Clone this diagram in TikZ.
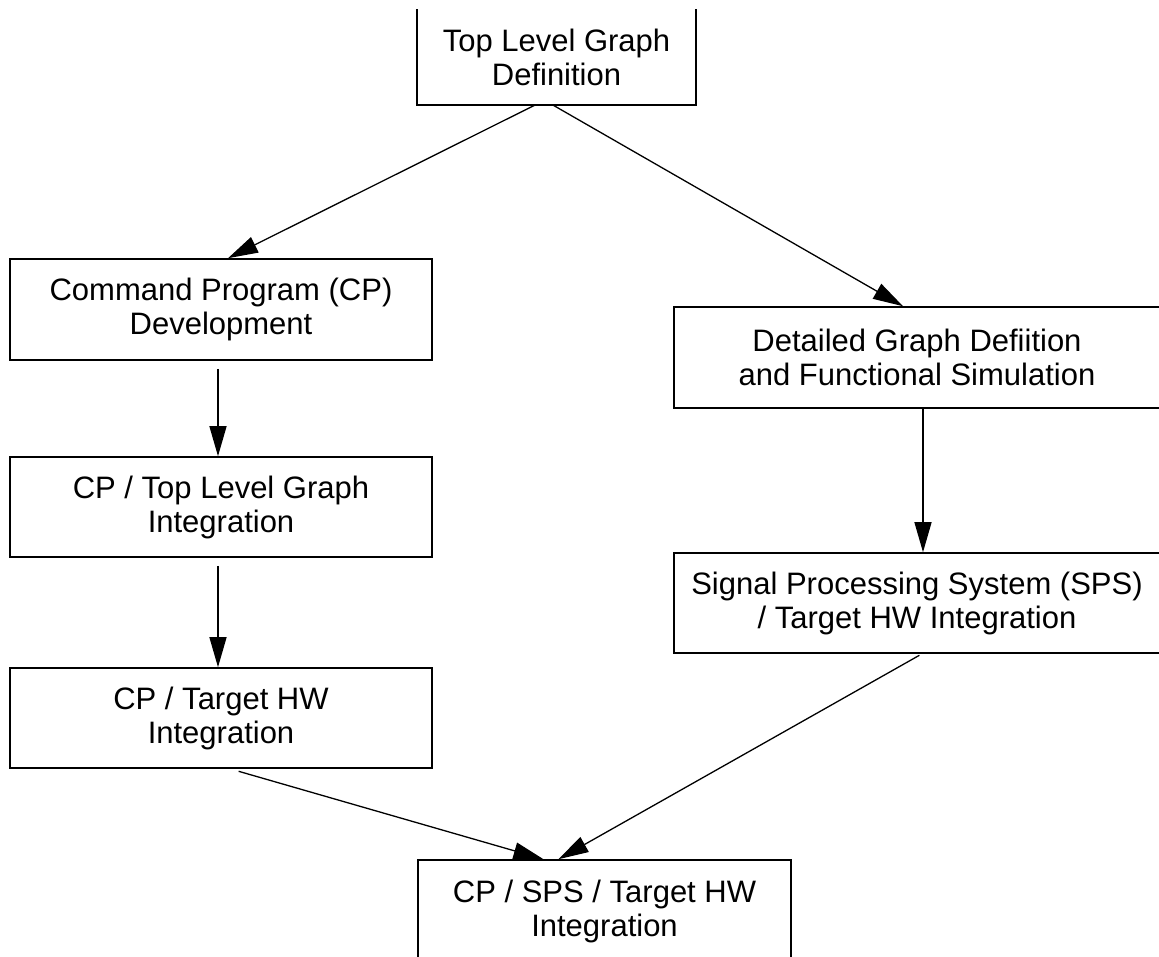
\documentclass[tikz,border=0pt]{standalone}
\usepackage{fontspec}
\setmainfont{Liberation Sans}
\usetikzlibrary{arrows.meta}
\begin{document}
\begin{tikzpicture}[x=1pt,y=-1pt,
  boxline/.style={line width=1.6pt},
  box/.style={draw, boxline, inner sep=0pt, align=center,
    font=\fontsize{31}{34}\selectfont},
  arr/.style={line width=1.3pt, -{Triangle[length=30pt,width=17pt]}}]
\useasboundingbox (0,0) rectangle (1159,956);

% top node: its upper edge runs off the page
\node[box, draw=none, minimum width=277, minimum height=94] (top) at (556.5,57) {Top Level Graph\\Definition};
\draw[boxline] (top.north west) -- (top.south west) -- (top.south east) -- (top.north east);

% left branch
\node[box, minimum width=422, minimum height=101] (cpdev) at (221,309.5) {Command Program (CP)\\Development};
\node[box, minimum width=422, minimum height=100] (cptop) at (221,507) {CP / Top Level Graph\\Integration};
\node[box, minimum width=422, minimum height=100] (cptgt) at (221,718) {CP / Target HW\\Integration};

% right branch (right edges fall off the page)
\node[box, minimum width=486, minimum height=101] (det) at (917,357.5) {Detailed Graph Defiition\\and Functional Simulation};
\node[box, minimum width=486, minimum height=100] (sps) at (917,603) {Signal Processing System (SPS)\\/ Target HW Integration};

% final integration (bottom edge falls off the page)
\node[box, minimum width=373, minimum height=102] (fin) at (604.5,911) {CP / SPS / Target HW\\Integration};

% connectors
\draw[arr] ([xshift=-21]top.south) -- ([xshift=7]cpdev.north);
\draw[arr] ([xshift=-4]top.south) -- ([xshift=-14]det.north);
\draw[arr, shorten <=8pt] ([xshift=-3]cpdev.south) -- ([xshift=-3]cptop.north);
\draw[arr, shorten <=8pt] ([xshift=-3]cptop.south) -- ([xshift=-3]cptgt.north);
\draw[arr] ([xshift=6]det.south) -- ([xshift=6]sps.north);
\draw[arr, shorten <=9pt] ([xshift=9]cptgt.south) -- ([xshift=-61]fin.north);
\draw[arr, shorten <=3pt] ([xshift=5]sps.south) -- ([xshift=-46]fin.north);
\end{tikzpicture}
\end{document}
